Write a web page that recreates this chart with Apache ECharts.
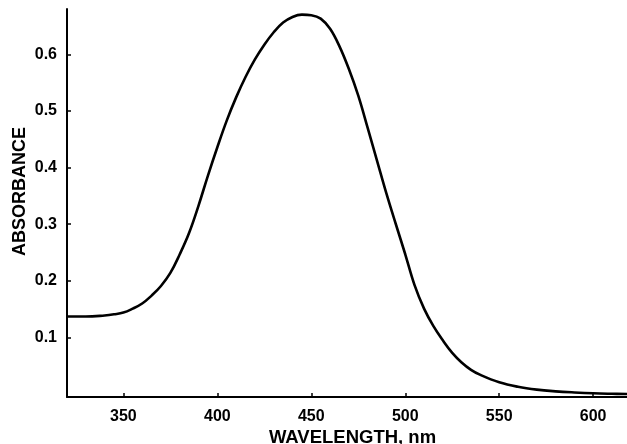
<!DOCTYPE html>
<html>
<head>
<meta charset="utf-8">
<title>Absorption spectrum</title>
<script src="https://cdn.jsdelivr.net/npm/echarts@6/dist/echarts.min.js"></script>
<style>
  html, body { margin: 0; padding: 0; background: #fff; }
  #chart { width: 627px; height: 444px; }
</style>
</head>
<body>
<div id="chart"></div>
<script>
// Wavelength (nm) sampled along the spectrum
const wavelengths = [
  320, 330, 340, 345, 350, 355, 360, 365, 370, 375,
  380, 385, 390, 395, 400, 405, 410, 415, 420, 425,
  430, 435, 440, 445, 450, 455, 460, 465, 470, 475,
  480, 485, 490, 495, 500, 505, 510, 515, 520, 525,
  530, 535, 540, 550, 560, 570, 580, 590, 600, 610, 618
];

// Absorbance at each wavelength
const absorbance = [
  0.137, 0.137, 0.139, 0.141, 0.144, 0.151, 0.160, 0.174, 0.191, 0.214,
  0.247, 0.285, 0.333, 0.386, 0.436, 0.483, 0.524, 0.560, 0.591, 0.617,
  0.639, 0.656, 0.666, 0.670, 0.669, 0.663, 0.645, 0.614, 0.574, 0.527,
  0.470, 0.412, 0.354, 0.300, 0.247, 0.192, 0.151, 0.120, 0.095, 0.073,
  0.056, 0.043, 0.034, 0.021, 0.013, 0.008, 0.005, 0.003, 0.0015, 0.0007, 0.0003
];

// Tick positions
const xTicks = [350, 400, 450, 500, 550, 600];
const yTicks = [0.1, 0.2, 0.3, 0.4, 0.5, 0.6];

const points = wavelengths.map((w, i) => [w, absorbance[i]]);

const font = 'Liberation Sans, Arial, Helvetica, sans-serif';

const chart = echarts.init(document.getElementById('chart'), null, { renderer: 'canvas' });

chart.setOption({
  backgroundColor: '#ffffff',
  animation: false,
  grid: {
    left: 67,
    right: 0,
    top: 9,
    bottom: 47,
    containLabel: false,
    outerBoundsMode: 'none'
  },
  xAxis: {
    type: 'value',
    min: 320,
    max: 618,
    name: 'WAVELENGTH, nm',
    nameLocation: 'middle',
    nameGap: 31,
    nameMoveOverlap: false,
    nameTextStyle: {
      color: '#000',
      fontFamily: font,
      fontWeight: 'bold',
      fontSize: 18.5,
      padding: [0, 0, 0, 11]
    },
    axisLine: { show: true, onZero: false, lineStyle: { color: '#000', width: 2 } },
    axisTick: {
      show: true,
      inside: true,
      length: 4,
      customValues: xTicks,
      lineStyle: { color: '#000', width: 1.5 }
    },
    axisLabel: {
      show: true,
      customValues: xTicks,
      margin: 12,
      color: '#000',
      fontFamily: font,
      fontWeight: 'bold',
      fontSize: 16
    },
    splitLine: { show: false }
  },
  yAxis: {
    type: 'value',
    min: -0.005,
    max: 0.68,
    name: 'ABSORBANCE',
    nameLocation: 'middle',
    nameGap: 38,
    nameRotate: 90,
    nameMoveOverlap: false,
    nameTextStyle: {
      color: '#000',
      fontFamily: font,
      fontWeight: 'bold',
      fontSize: 18,
      padding: [0, 0, 0, 23]
    },
    axisLine: { show: true, onZero: false, lineStyle: { color: '#000', width: 2 } },
    axisTick: {
      show: true,
      inside: true,
      length: 4,
      customValues: yTicks,
      lineStyle: { color: '#000', width: 1.5 }
    },
    axisLabel: {
      show: true,
      customValues: yTicks,
      margin: 10,
      color: '#000',
      fontFamily: font,
      fontWeight: 'bold',
      fontSize: 16,
      formatter: v => v.toFixed(1)
    },
    splitLine: { show: false }
  },
  series: [{
    type: 'line',
    data: points,
    smooth: 0.4,
    showSymbol: false,
    lineStyle: { color: '#000', width: 2.6 },
    clip: true
  }]
});
</script>
</body>
</html>
